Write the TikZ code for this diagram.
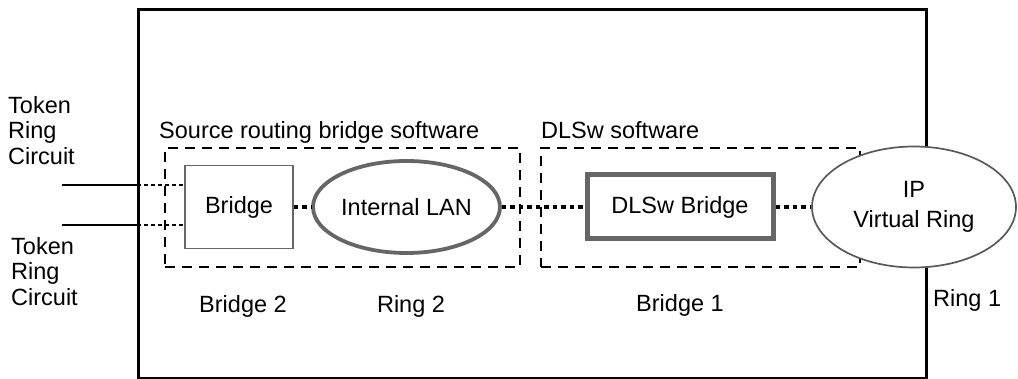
\documentclass[tikz,border=0pt]{standalone}
\usepackage{fontspec}
\setmainfont{Liberation Sans}
\usetikzlibrary{shapes.geometric}
\definecolor{strokegray}{gray}{0.40}
\definecolor{thingray}{gray}{0.35}
\begin{document}
\begin{tikzpicture}[x=1pt,y=-1pt,
  txt/.style={font=\fontsize{23.5}{25.5}\selectfont, inner sep=0pt},
  outerbox/.style={draw, line width=2.6pt, inner sep=0pt, anchor=north west},
  swbox/.style={draw, line width=2.7pt, dash pattern=on 10pt off 7pt, inner sep=0pt},
  bridgebox/.style={draw=strokegray, line width=1.8pt, inner sep=0pt, txt},
  lanell/.style={ellipse, draw=strokegray, line width=3.8pt, inner sep=0pt, txt},
  dlswbox/.style={draw=strokegray, line width=5pt, inner sep=0pt, txt},
  ipell/.style={ellipse, draw=thingray, fill=white, line width=1.7pt, inner sep=0pt, align=center, font=\fontsize{23.5}{30}\selectfont},
  wire/.style={line width=2.4pt},
  tokdot/.style={line width=2.2pt, dash pattern=on 4pt off 3pt},
  bigdot/.style={line width=4.5pt, dash pattern=on 4.5pt off 4pt}
]
\useasboundingbox (0,0) rectangle (1018,379);

% outer box
\node[outerbox, minimum width=788pt, minimum height=369pt] (outer) at (137,8) {};

% software dashed boxes
\node[swbox, minimum width=355pt, minimum height=119pt] (srb) at (342.5,207.5) {};
\node[swbox, minimum width=319pt, minimum height=119pt] (dls) at (700.5,207.5) {};

% labels of software boxes
\node[txt, anchor=base west] (srblbl) at (159,139) {Source routing bridge software};
\node[txt, anchor=base west] (dlslbl) at (541,139) {DLSw software};

% components
\node[bridgebox, minimum width=108pt, minimum height=83pt] (bridge) at (239,207) {Bridge};
\node[lanell, minimum width=187pt, minimum height=92pt] (lan) at (406.5,207) {Internal LAN};
\node[dlswbox, minimum width=186pt, minimum height=64pt] (dlsw) at (680,207) {DLSw Bridge};
\node[ipell, minimum width=204pt, minimum height=121pt] (ip) at (914,207) {IP\\Virtual Ring};

% token ring circuits
\coordinate (t1) at (62,185);
\coordinate (t2) at (62,225);
\draw[wire] (t1) -- (t1 -| outer.west);
\draw[wire] (t2) -- (t2 -| outer.west);
\draw[tokdot] (t1 -| outer.west) -- (t1 -| bridge.west);
\draw[tokdot] (t2 -| outer.west) -- (t2 -| bridge.west);

\node[txt, align=left, anchor=north west] (tok1) at (8,96) {Token\\Ring\\Circuit};
\node[txt, align=left, anchor=north west] (tok2) at (11,237) {Token\\Ring\\Circuit};

% dotted connectors
\draw[bigdot] (bridge.east) -- (lan.west);
\draw[bigdot] (lan.east) -- (dlsw.west);
\draw[bigdot] (dlsw.east) -- (ip.west);

% bottom labels
\node[txt, anchor=base] (b2) at (243,313) {Bridge 2};
\node[txt, anchor=base] (r2) at (411,313) {Ring 2};
\node[txt, anchor=base] (b1) at (680,312) {Bridge 1};
\node[txt, anchor=base west] (r1) at (933,307) {Ring 1};
\end{tikzpicture}
\end{document}
